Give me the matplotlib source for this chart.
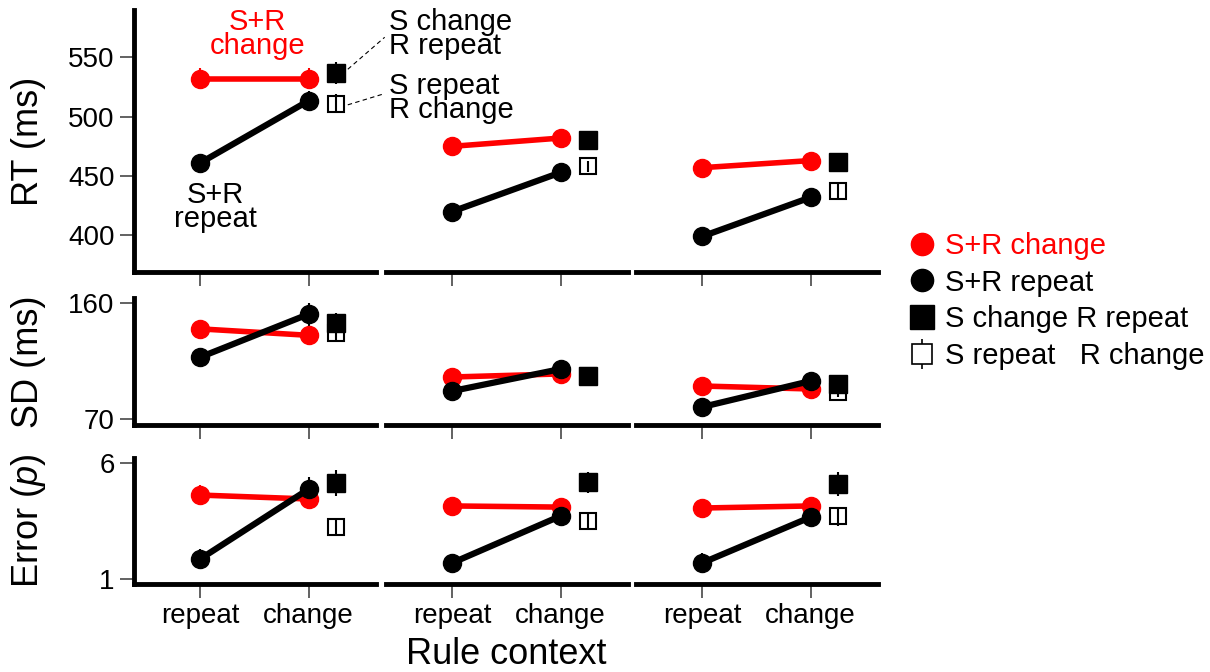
import matplotlib
matplotlib.use('Agg')
import matplotlib.pyplot as plt
from matplotlib.lines import Line2D

plt.rcParams['font.family'] = ['Liberation Sans', 'DejaVu Sans']
plt.rcParams['mathtext.fontset'] = 'custom'
plt.rcParams['mathtext.rm'] = 'Liberation Sans'
plt.rcParams['mathtext.it'] = 'Liberation Sans:italic'

contexts = ['repeat', 'change']
measures = ['RT (ms)', 'SD (ms)', r'Error ($\mathit{p}$)']
legend_labels = ['S+R change', 'S+R repeat', 'S change R repeat', 'S repeat   R change']

# one entry per block; pairs are [repeat, change] rule context
rt_sr_change = [[532, 532], [475, 482], [457, 463]]
rt_sr_repeat = [[461, 513.5], [420, 453], [399, 432]]
rt_s_change = [537, 480, 462]
rt_r_change = [511, 458, 437]
rt_sr_change_se = [[9, 9], [4, 4], [4, 4]]
rt_sr_repeat_se = [[7, 8], [5, 5], [8, 5]]
rt_s_change_se = [9, 4, 5]
rt_r_change_se = [8, 5, 6]

sd_sr_change = [[140, 135], [102.6, 105], [95.6, 93.3]]
sd_sr_repeat = [[118, 151.5], [91.7, 108.8], [79.3, 99.5]]
sd_s_change = [144.5, 103, 97]
sd_r_change = [137, 103, 91]
sd_sr_change_se = [[7, 5], [3, 3], [3, 3]]
sd_sr_repeat_se = [[7, 9], [3, 3], [5, 3]]
sd_s_change_se = [8, 3, 4]
sd_r_change_se = [6, 3, 4]

err_sr_change = [[4.62, 4.45], [4.15, 4.1], [4.06, 4.15]]
err_sr_repeat = [[1.86, 4.88], [1.69, 3.72], [1.69, 3.67]]
err_s_change = [5.14, 5.18, 5.1]
err_r_change = [3.24, 3.5, 3.7]
err_sr_change_se = [[0.45, 0.3], [0.25, 0.25], [0.25, 0.25]]
err_sr_repeat_se = [[0.45, 0.5], [0.3, 0.45], [0.45, 0.45]]
err_s_change_se = [0.55, 0.45, 0.5]
err_r_change_se = [0.35, 0.3, 0.4]

rows = [
    (rt_sr_change, rt_sr_repeat, rt_s_change, rt_r_change,
     rt_sr_change_se, rt_sr_repeat_se, rt_s_change_se, rt_r_change_se),
    (sd_sr_change, sd_sr_repeat, sd_s_change, sd_r_change,
     sd_sr_change_se, sd_sr_repeat_se, sd_s_change_se, sd_r_change_se),
    (err_sr_change, err_sr_repeat, err_s_change, err_r_change,
     err_sr_change_se, err_sr_repeat_se, err_s_change_se, err_r_change_se),
]
ylims = [(369, 590), (65.3, 164), (0.78, 6.22)]
yticks = [[400, 450, 500, 550], [70, 160], [1, 6]]

W, H = 1210, 672
fig = plt.figure(figsize=(W / 100, H / 100), dpi=100)

col_left = [134, 386, 636]
col_w = 242
row_box = [(10, 272), (298, 425), (458, 584)]

axes = []
for r, data in enumerate(rows):
    red, black, sq_f, sq_o, red_se, black_se, sq_f_se, sq_o_se = data
    top, bot = row_box[r]
    for c in range(3):
        ax = fig.add_axes([col_left[c] / W, 1 - bot / H, col_w / W, (bot - top) / H])
        ax.patch.set_visible(False)
        ax.errorbar([1.25], [sq_o[c]], yerr=[sq_o_se[c]], fmt='s', ms=11.5,
                    mfc='none', mec='black', mew=1.5, ecolor='black', elinewidth=1.5)
        ax.errorbar([1.25], [sq_f[c]], yerr=[sq_f_se[c]], fmt='s', ms=13,
                    color='black', elinewidth=1.5)
        ax.errorbar([0, 1], red[c], yerr=red_se[c], color='red', lw=4,
                    marker='o', ms=13, elinewidth=1.5)
        ax.errorbar([0, 1], black[c], yerr=black_se[c], color='black', lw=4.5,
                    marker='o', ms=13, elinewidth=1.5)

        ax.set_xlim(-0.61, 1.62)
        ax.set_ylim(*ylims[r])
        ax.set_xticks([0, 1])
        ax.set_xticklabels(contexts)
        for s in ['top', 'right']:
            ax.spines[s].set_visible(False)
        for s in ['left', 'bottom']:
            ax.spines[s].set_linewidth(3.5)
        ax.tick_params(direction='out', length=10, width=1.3, color='#555555',
                       labelsize=20, pad=4)
        if r < 2:
            ax.tick_params(labelbottom=False)
        if c == 0:
            ax.set_yticks(yticks[r])
        else:
            ax.spines['left'].set_visible(False)
            ax.set_yticks([])
        axes.append(ax)

    fig.text(28 / W, 1 - (top + bot) / 2 / H, measures[r], rotation=90,
             ha='center', va='center', fontsize=26)

# condition labels on the first RT panel
ax = axes[0]
ax.set_zorder(5)
ax.text(0.53, 570, 'S+R\nchange', color='red', ha='center', va='center',
        fontsize=21, linespacing=0.8)
ax.text(0.14, 424, 'S+R\nrepeat', color='black', ha='center', va='center',
        fontsize=21, linespacing=0.8)
ax.text(1.74, 570, 'S change\nR repeat', ha='left', va='center',
        fontsize=21, linespacing=0.8, clip_on=False)
ax.text(1.74, 516, 'S repeat\nR change', ha='left', va='center',
        fontsize=21, linespacing=0.8, clip_on=False)
ax.plot([1.36, 1.70], [540, 567], ls=(0, (4, 3)), lw=0.8, color='black', clip_on=False)
ax.plot([1.36, 1.70], [510, 519.5], ls=(0, (4, 3)), lw=0.8, color='black', clip_on=False)

fig.text(506 / W, 1 - 654 / H, 'Rule context', ha='center', va='center', fontsize=26)

handles = [
    Line2D([], [], marker='o', color='red', ls='none', ms=16),
    Line2D([], [], marker='o', color='black', ls='none', ms=16),
    Line2D([], [], marker='s', color='black', ls='none', ms=17),
    (Line2D([], [], marker='|', color='black', ls='none', ms=22, mew=1.2),
     Line2D([], [], marker='s', mfc='white', mec='black', ls='none', ms=15, mew=1.2)),
]
leg = fig.legend(handles, legend_labels, loc='center left', bbox_to_anchor=(0.75, 0.552),
                 frameon=False, fontsize=21, handlelength=1.0, handletextpad=0.3,
                 labelspacing=0.3, borderpad=0, borderaxespad=0)
leg.get_texts()[0].set_color('red')

fig.savefig('out.png', dpi=100)
